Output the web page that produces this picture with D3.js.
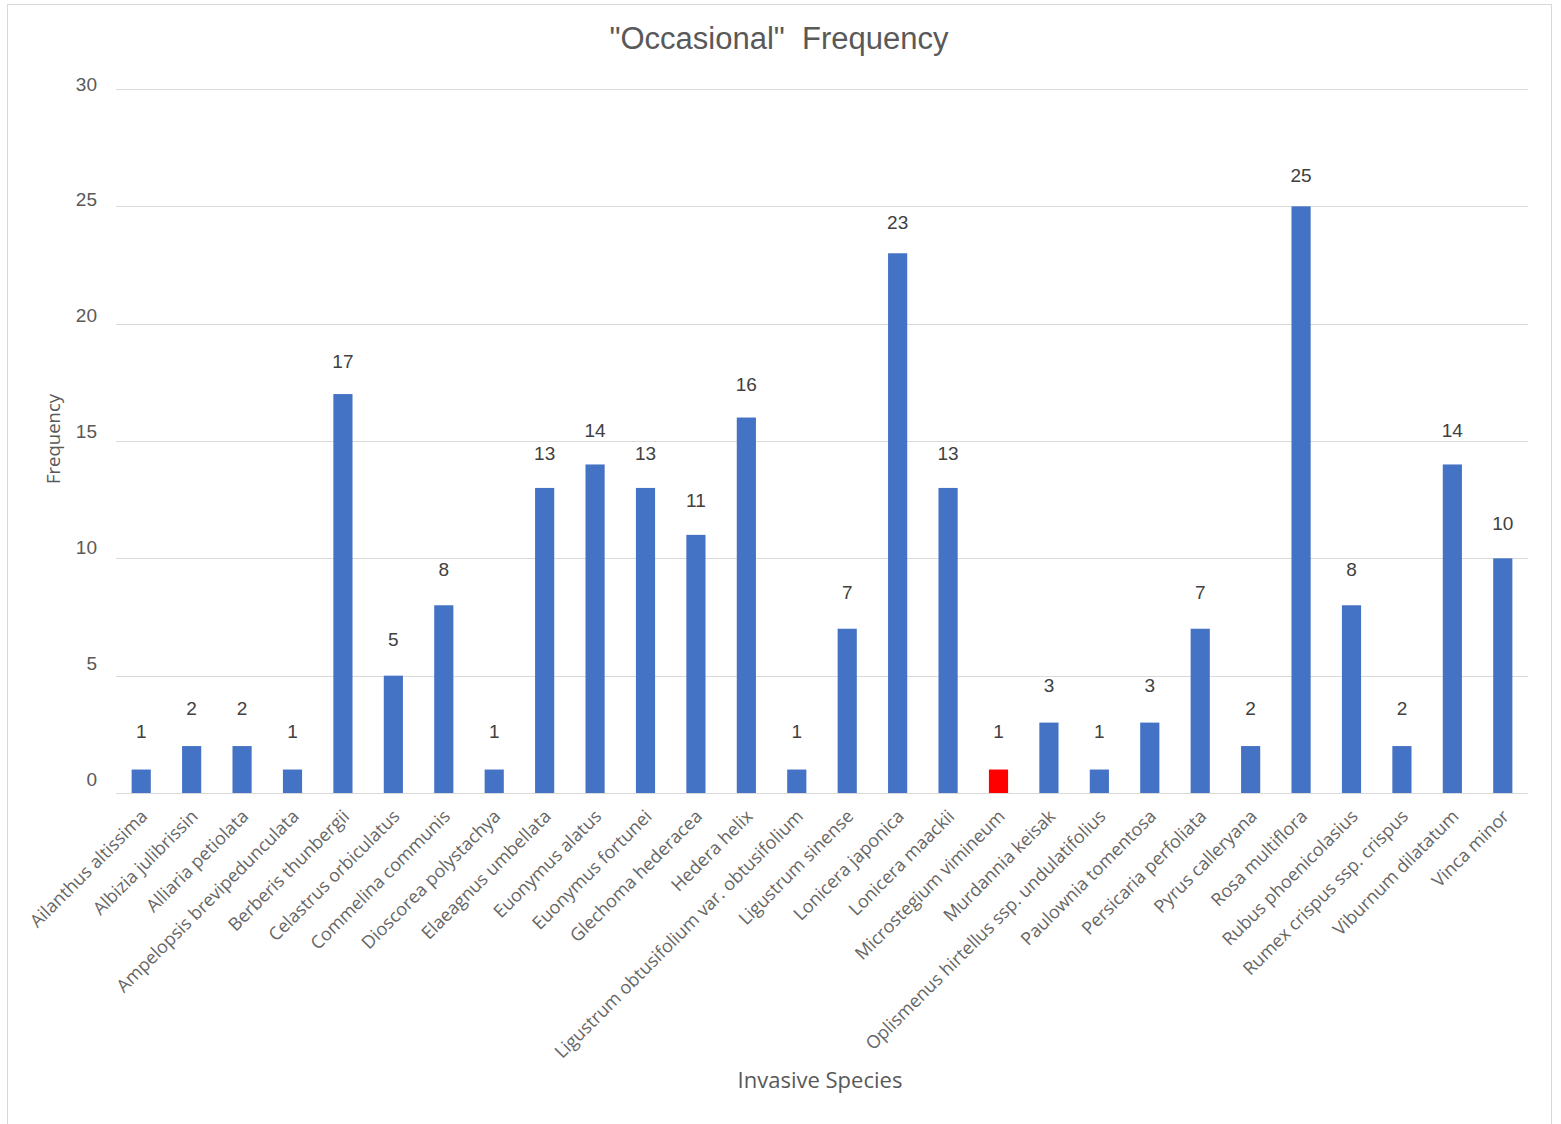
<!DOCTYPE html>
<html>
<head>
<meta charset="utf-8">
<script src="https://cdn.jsdelivr.net/npm/d3@7/dist/d3.min.js"></script>
<style>
  html, body { margin: 0; padding: 0; background: #ffffff; }
  svg { display: block; }
</style>
</head>
<body>
<script>
// Occasional-frequency counts per invasive species
const species = [
  "Ailanthus altissima", "Albizia julibrissin", "Alliaria petiolata",
  "Ampelopsis brevipedunculata", "Berberis thunbergii", "Celastrus orbiculatus",
  "Commelina communis", "Dioscorea polystachya", "Elaeagnus umbellata",
  "Euonymus alatus", "Euonymus fortunei", "Glechoma hederacea", "Hedera helix",
  "Ligustrum obtusifolium var. obtusifolium", "Ligustrum sinense",
  "Lonicera japonica", "Lonicera maackii", "Microstegium vimineum",
  "Murdannia keisak", "Oplismenus hirtellus ssp. undulatifolius",
  "Paulownia tomentosa", "Persicaria perfoliata", "Pyrus calleryana",
  "Rosa multiflora", "Rubus phoenicolasius", "Rumex crispus ssp. crispus",
  "Viburnum dilatatum", "Vinca minor"
];
const frequency = [1, 2, 2, 1, 17, 5, 8, 1, 13, 14, 13, 11, 16, 1, 7, 23, 13, 1, 3, 1, 3, 7, 2, 25, 8, 2, 14, 10];
const highlighted = ["Microstegium vimineum"];
const yTicks = [0, 5, 10, 15, 20, 25, 30];

const W = 1561, H = 1124;
const plot = { left: 116, right: 1528, top: 89, bottom: 793 };
const textColor = "#595959";

const svg = d3.select("body").append("svg")
  .attr("width", W).attr("height", H);

// chart frame
svg.append("rect")
  .attr("x", 7.5).attr("y", 4.5)
  .attr("width", 1544).attr("height", 1130)
  .attr("fill", "#ffffff").attr("stroke", "#d9d9d9").attr("stroke-width", 1);

const x = d3.scaleBand()
  .domain(species)
  .range([plot.left, plot.right])
  .paddingInner(0.62).paddingOuter(0.31);

const y = d3.scaleLinear()
  .domain([0, 30])
  .range([plot.bottom, plot.top]);

// text layer sits on its own slightly compressed vertical scale
const yText = d3.scaleLinear()
  .domain([0, 30])
  .range([plot.bottom - 14, plot.top - 5]);

// gridlines
svg.append("g").selectAll("line")
  .data(yTicks)
  .join("line")
  .attr("x1", plot.left).attr("x2", plot.right)
  .attr("y1", d => Math.round(y(d)) + 0.5).attr("y2", d => Math.round(y(d)) + 0.5)
  .attr("stroke", "#d9d9d9").attr("stroke-width", 1);

// y tick labels
svg.append("g").selectAll("text")
  .data(yTicks)
  .join("text")
  .attr("x", 97)
  .attr("y", d => yText(d))
  .attr("dy", "0.35em")
  .attr("text-anchor", "end")
  .attr("fill", textColor)
  .style("font-family", "'Liberation Sans', Arial, sans-serif")
  .style("font-size", "19px")
  .text(d3.format("d"));

// bars
svg.append("g").selectAll("rect")
  .data(species)
  .join("rect")
  .attr("x", d => x(d))
  .attr("width", x.bandwidth())
  .attr("y", (d, i) => y(frequency[i]))
  .attr("height", (d, i) => y(0) - y(frequency[i]))
  .attr("fill", d => highlighted.includes(d) ? "#ff0000" : "#4472c4");

// value labels
svg.append("g").selectAll("text")
  .data(species)
  .join("text")
  .attr("x", d => x(d) + x.bandwidth() / 2)
  .attr("y", (d, i) => yText(frequency[i]) - 24)
  .attr("dy", "0.35em")
  .attr("text-anchor", "middle")
  .attr("fill", "#404040")
  .style("font-family", "'Liberation Sans', Arial, sans-serif")
  .style("font-size", "19px")
  .text((d, i) => frequency[i]);

// x category labels, rotated
const xAxis = d3.axisBottom(x).tickSize(0).tickPadding(0);
const gx = svg.append("g")
  .attr("transform", `translate(0,${plot.bottom})`)
  .call(xAxis);
gx.select(".domain").remove();
gx.selectAll(".tick text")
  .attr("fill", "#666666")
  .style("font-family", "'Open Sans', sans-serif")
  .style("font-size", "18px")
  .attr("text-anchor", "end")
  .attr("dy", "0.35em")
  .attr("y", 0)
  .attr("transform", "translate(3,20) rotate(-45)");

// titles
svg.append("text")
  .attr("x", 779).attr("y", 49)
  .attr("text-anchor", "middle")
  .attr("fill", textColor)
  .style("font-family", "'Liberation Sans', Arial, sans-serif")
  .style("font-size", "31px")
  .style("white-space", "pre")
  .text("\"Occasional\"  Frequency");

svg.append("text")
  .attr("x", 820).attr("y", 1088)
  .attr("text-anchor", "middle")
  .attr("fill", textColor)
  .style("font-family", "'Open Sans', sans-serif")
  .style("font-size", "22px")
  .text("Invasive Species");

svg.append("text")
  .attr("transform", "translate(60,439) rotate(-90)")
  .attr("text-anchor", "middle")
  .attr("fill", textColor)
  .style("font-family", "'Open Sans', sans-serif")
  .style("font-size", "18.5px")
  .text("Frequency");
</script>
</body>
</html>
